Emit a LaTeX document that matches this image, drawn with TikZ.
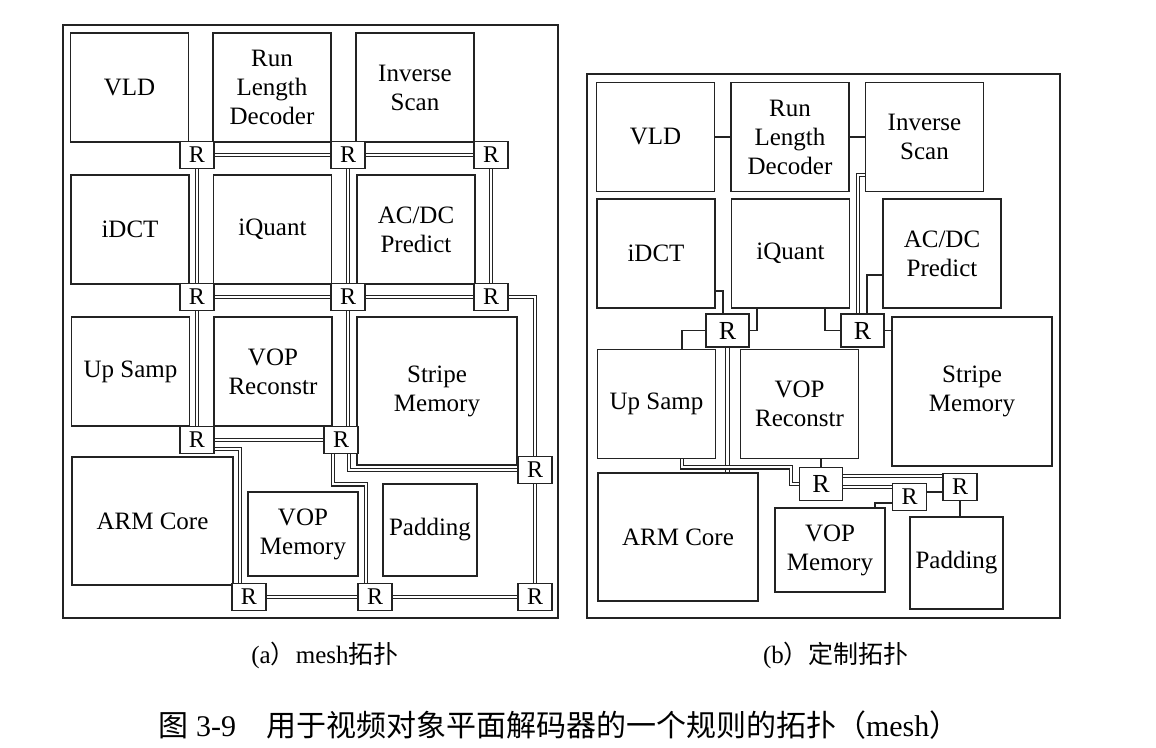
\documentclass[tikz,border=0pt]{standalone}
\usepackage{fontspec}
\setmainfont{Liberation Serif}
\newfontfamily\cjk{Noto Sans CJK SC}
\usepackage{xcolor}
\usetikzlibrary{backgrounds}
\definecolor{linegray}{RGB}{35, 35, 35}
\tikzset{
  % Bloklar
  blk/.style    = {draw=linegray, line width=0.8pt, fill=white, align=center,
                   inner sep=1pt, minimum width=59pt, minimum height=54.5pt,
                   font=\fontsize{12.5}{14.5}\selectfont},
  % Routerlar
  rtr/.style    = {draw=linegray, line width=0.8pt, fill=white, inner sep=0pt,
                   minimum width=17pt, minimum height=13.5pt,
                   font=\fontsize{12}{12}\selectfont},
  rtrbig/.style = {rtr, minimum width=21.5pt, minimum height=16.5pt,
                   font=\fontsize{13}{13}\selectfont},
  % Ulanishlar
  link/.style   = {draw=linegray, line width=0.7pt},
  dlink/.style  = {draw=linegray, line width=0.55pt, double=white, double distance=1.1pt},
  % Ramka va yozuvlar
  frame/.style  = {draw=linegray, line width=0.8pt},
  subcap/.style = {inner sep=0pt, font=\fontsize{12.5}{14}\selectfont},
  figcap/.style = {inner sep=0pt, font=\fontsize{15}{17}\selectfont},
}

\begin{document}
\begin{tikzpicture}[x=0.5pt, y=-0.5pt]
  \useasboundingbox (0,0) rectangle (1156,748);
  % (a) mesh
  \draw[frame] (63,25) rectangle (558,618);
  \node[blk] (vldA)  at (129.5,87.5) {VLD};
  \node[blk] (rldA)  at (272,87.5)   {Run\\Length\\Decoder};
  \node[blk] (isA)   at (415,87.5)   {Inverse\\Scan};
  \node[blk] (idctA) at (130,229.5)  {iDCT};
  \node[blk] (iqA)   at (272.5,229.5) {iQuant};
  \node[blk] (acdcA) at (416,229.5)  {AC/DC\\Predict};
  \node[blk] (upA)   at (130.5,371.5) {Up Samp};
  \node[blk] (vrA)   at (273,371.5)  {VOP\\Reconstr};
  \node[blk, minimum width=80pt, minimum height=74pt] (smA) at (437,391) {Stripe\\Memory};
  \node[blk, minimum width=80.5pt, minimum height=64pt] (armA) at (152.5,521) {ARM Core};
  \node[blk, minimum width=55pt, minimum height=42pt] (vmA) at (303,534) {VOP\\Memory};
  \node[blk, minimum width=47pt, minimum height=46pt] (padA) at (430,530) {Padding};
  \node[rtr] (ra1)  at (197,155) {R};
  \node[rtr] (ra2)  at (348,155) {R};
  \node[rtr] (ra3)  at (491,155) {R};
  \node[rtr] (ra4)  at (197,297) {R};
  \node[rtr] (ra5)  at (348,297) {R};
  \node[rtr] (ra6)  at (491,297) {R};
  \node[rtr] (ra7)  at (197,440) {R};
  \node[rtr] (ra8)  at (341,440) {R};
  \node[rtr] (ra9)  at (535,470) {R};
  \node[rtr] (ra10) at (249,597) {R};
  \node[rtr] (ra11) at (375,597) {R};
  \node[rtr] (ra12) at (535,597) {R};
  \begin{scope}[on background layer]
    \draw[dlink] (ra1) -- (ra2) -- (ra3);
    \draw[dlink] (ra4) -- (ra5) -- (ra6);
    \draw[dlink] (ra7) -- (ra8);
    \draw[dlink] (ra10) -- (ra11) -- (ra12);
    \draw[dlink] (ra1) -- (ra4) -- (ra7);
    \draw[dlink] (ra2) -- (ra5);
    \draw[dlink] (ra3) -- (ra6);
    \draw[dlink] (ra9) -- (ra12);
    \draw[dlink] (ra6) -| (ra9);
    \draw[dlink] (ra5.south) -- (ra5.south |- ra8.north);
    \draw[dlink] ([shift={(0,9)}]ra7.east) -| ([shift={(-9,0)}]ra10.north);
    \draw[dlink] ([shift={(-8,0)}]ra8.south) -- ++(0,30) -| ([shift={(-9,0)}]ra11.north);
    \draw[dlink] ([shift={(8,0)}]ra8.south) |- (ra9.west);
  \end{scope}

  % (b) maxsus
  \draw[frame] (587,74) rectangle (1060,618);
  \node[blk] (vldB)  at (655.5,137) {VLD};
  \node[blk] (rldB)  at (790,137)   {Run\\Length\\Decoder};
  \node[blk] (isB)   at (924.5,137) {Inverse\\Scan};
  \node[blk] (idctB) at (656,253.5) {iDCT};
  \node[blk] (iqB)   at (790.5,253.5) {iQuant};
  \node[blk] (acdcB) at (942,253.5) {AC/DC\\Predict};
  \node[blk] (upB)   at (656.5,404) {Up Samp};
  \node[blk] (vrB)   at (799.5,404) {VOP\\Reconstr};
  \node[blk, minimum width=80pt, minimum height=74.5pt] (smB) at (972,391.5) {Stripe\\Memory};
  \node[blk, minimum width=80pt, minimum height=64pt] (armB) at (678,537) {ARM Core};
  \node[blk, minimum width=55pt, minimum height=42pt] (vmB) at (830,550) {VOP\\Memory};
  \node[blk, minimum width=46.5pt, minimum height=46pt] (padB) at (956.5,563) {Padding};
  \node[rtrbig] (rb1) at (727.5,330.5) {R};
  \node[rtrbig] (rb2) at (862.5,330.5) {R};
  \node[rtrbig] (rb3) at (821,484) {R};
  \node[rtr]    (rb4) at (909.5,497) {R};
  \node[rtr]    (rb5) at (960,487) {R};
  \coordinate (p1) at ([shift={(0,-8)}]rb3.east);
  \coordinate (p2) at ([shift={(0,3)}]rb3.east);
  \coordinate (p3) at ([shift={(0,-5)}]rb4.east);
  \begin{scope}[on background layer]
    \draw[link] (vldB) -- (rldB) -- (isB);
    \draw[link] ([shift={(0,37.5)}]idctB.east) -| ([shift={(-4.5,0)}]rb1.north);
    \draw[link] ([shift={(-33.5,0)}]iqB.south) |- (rb1.east);
    \draw[link] ([shift={(25.5,0)}]upB.north) |- (rb1.west);
    \draw[dlink] (rb1.south) -- (rb1.south |- armB.north);
    \draw[dlink] ([shift={(25.5,0)}]upB.south) -- ++(0,8) -| ([shift={(-8,0)}]rb3.west) -- (rb3.west);
    \draw[link] (rb3.north) -- (rb3.north |- vrB.south);
    \draw[dlink] (p1) -- (p1 -| rb5.west);
    \draw[dlink] (p2) -- (p2 -| rb4.west);
    \draw[link] (p3) -- (p3 -| rb5.west);
    \draw[link] ([shift={(0,6)}]rb4.west) -| ([shift={(45,0)}]vmB.north);
    \draw[link] (rb5.south) -- (rb5.south |- padB.north);
    \draw[link] ([shift={(34.5,0)}]iqB.south) |- (rb2.west);
    \draw[dlink] ([shift={(0,38)}]isB.west) -| ([shift={(-4.5,0)}]rb2.north);
    \draw[link] ([shift={(0,21.5)}]acdcB.west) -| ([shift={(4.5,0)}]rb2.north);
    \draw[link] (rb2.east) -- (rb2.east -| smB.west);
  \end{scope}

  % Yozuvlar
  \node[subcap] (capA) at (325,655) {(a{\cjk ）}mesh{\cjk 拓扑}};
  \node[subcap] (capB) at (836,655) {(b{\cjk ）}{\cjk 定制拓扑}};
  \node[figcap] (capFig) at (559,725) {{\cjk 图} 3-9\quad{\cjk 用于视频对象平面解码器的一个规则的拓扑（}mesh{\cjk ）}};
\end{tikzpicture}
\end{document}
